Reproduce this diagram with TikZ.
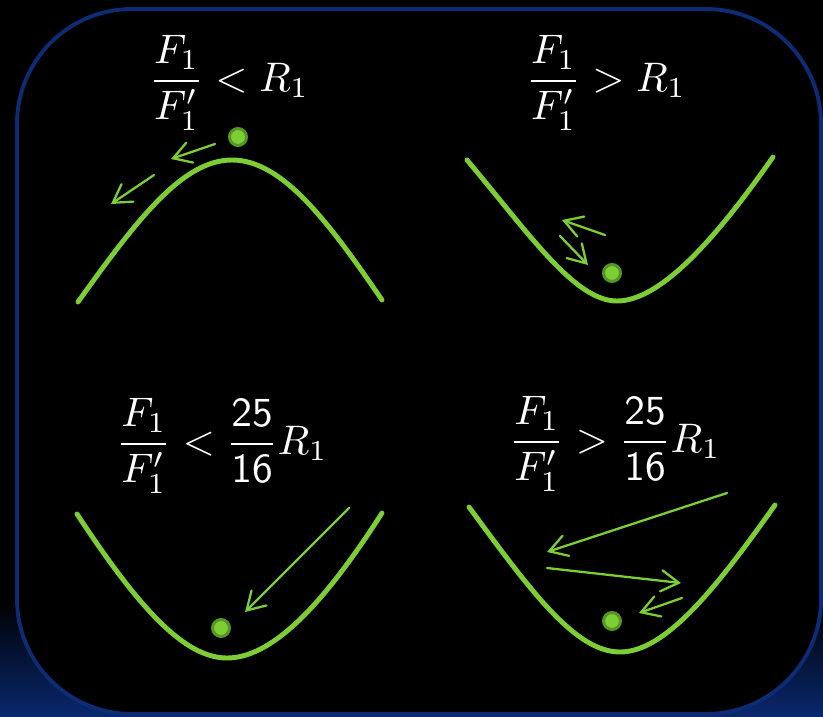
\documentclass[tikz,border=0pt]{standalone}
\usepackage{amsmath}
\usepackage{xcolor}
\usetikzlibrary{arrows.meta}

\definecolor{leafgreen}{RGB}{124,206,52}
\definecolor{balldark}{RGB}{84,150,34}
\definecolor{frameblue}{RGB}{12,44,118}
\definecolor{glowblue}{RGB}{10,40,110}

\begin{document}
\begin{tikzpicture}[
    x=0.02cm, y=-0.02cm,
    curve/.style={draw=leafgreen, line width=2.8pt, line cap=round},
    push/.style={draw=leafgreen, line width=1.3pt, line cap=round, -{Straight Barb[length=10pt,width=12pt,line cap=round]}},
    ball/.style={circle, draw=balldark, fill=leafgreen, line width=1.7pt, minimum size=0.34cm, inner sep=0pt},
    cond/.style={text=white, inner sep=0pt, scale=2.35, transform shape}
]

    % Background and frame
    \useasboundingbox (0,0) rectangle (823,717);
    \fill[black] (0,0) rectangle (823,717);
    \shade[top color=black, bottom color=glowblue] (0,600) rectangle (823,717);
    \fill[black, rounded corners=2.3cm] (17,9) rectangle (821,714);
    \draw[frameblue, line width=2.2pt, rounded corners=2.3cm] (17,9) rectangle (821,714);

    % Top left: hill
    \node [cond] (condA) at (229,83) {$\dfrac{F_1}{F_1'} < R_1$};
    \draw [curve] (78,302) .. controls (138,218) and (183,160) .. (232,160)
                           .. controls (281,160) and (326,218) .. (382,300);
    \node [ball] (ballA) at (238,137) {};
    \coordinate (a1) at (215,144);  \coordinate (a2) at (171,159);
    \coordinate (a3) at (154,175);  \coordinate (a4) at (111,204);
    \path [push] (a1) -- (a2);
    \path [push] (a3) -- (a4);

    % Top right: valley
    \node [cond] (condB) at (606,83) {$\dfrac{F_1}{F_1'} > R_1$};
    \draw [curve] (467,160) .. controls (530,235) and (575,301) .. (617,301)
                            .. controls (660,301) and (715,240) .. (773,157);
    \node [ball] (ballB) at (612,273) {};
    \coordinate (b1) at (605,235);  \coordinate (b2) at (562,220);
    \coordinate (b3) at (560,236);  \coordinate (b4) at (588,265);
    \path [push] (b1) -- (b2);
    \path [push] (b3) -- (b4);

    % Bottom left: valley, small push
    \node [cond] (condC) at (222,446) {$\dfrac{F_1}{F_1'} < \dfrac{\mathsf{25}}{\mathsf{16}}R_1$};
    \draw [curve] (77,514) .. controls (140,610) and (185,658) .. (227,658)
                           .. controls (270,658) and (320,610) .. (382,513);
    \node [ball] (ballC) at (221,628) {};
    \coordinate (c1) at (349,508);  \coordinate (c2) at (245,612);
    \path [push] (c1) -- (c2);

    % Bottom right: valley, large push
    \node [cond] (condD) at (615,444) {$\dfrac{F_1}{F_1'} > \dfrac{\mathsf{25}}{\mathsf{16}}R_1$};
    \draw [curve] (469,507) .. controls (530,590) and (575,652) .. (620,652)
                            .. controls (665,652) and (715,590) .. (775,505);
    \node [ball] (ballD) at (612,621) {};
    \coordinate (d1) at (727,493);  \coordinate (d2) at (547,552);
    \coordinate (d3) at (547,568);  \coordinate (d4) at (681,583);
    \coordinate (d5) at (682,598);  \coordinate (d6) at (639,613);
    \path [push] (d1) -- (d2);
    \path [push] (d3) -- (d4);
    \path [push] (d5) -- (d6);

\end{tikzpicture}
\end{document}
